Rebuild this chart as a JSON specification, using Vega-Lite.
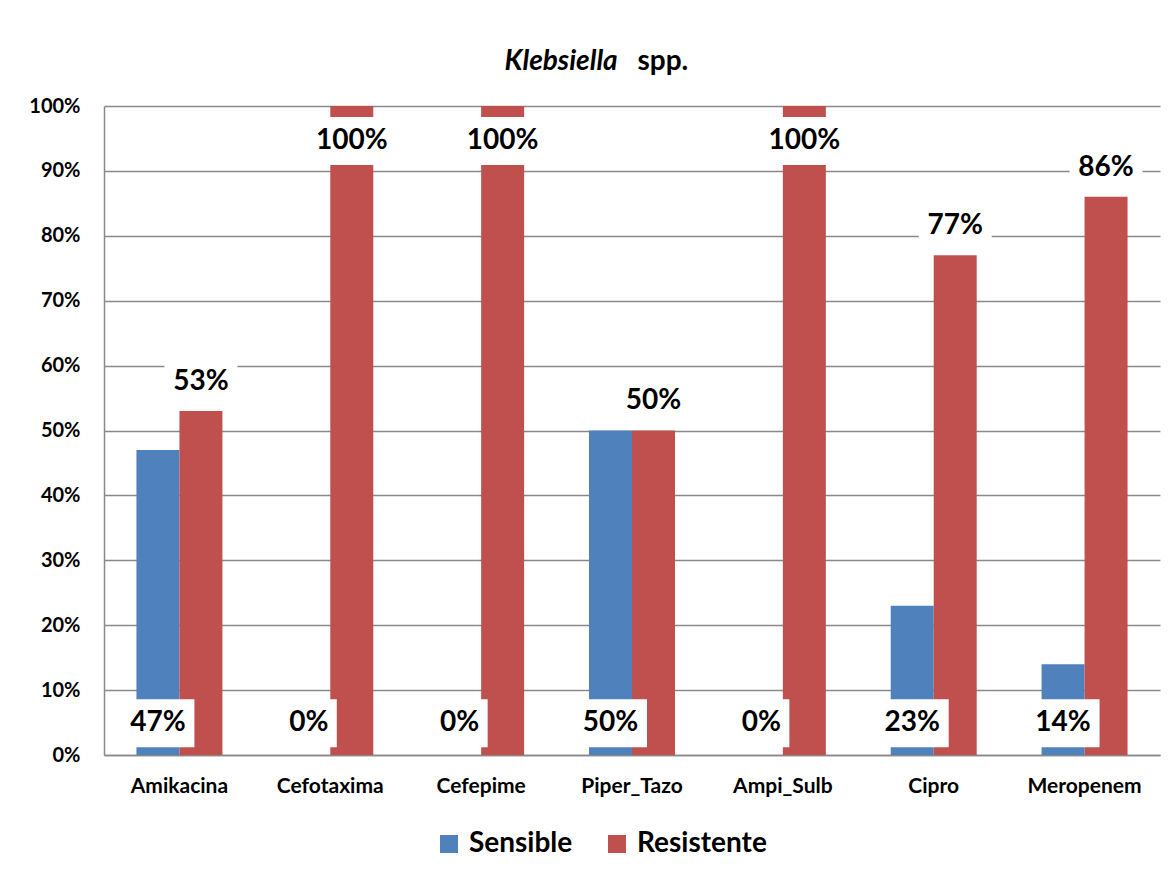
{
  "$schema": "https://vega.github.io/schema/vega-lite/v6.json",
  "width": 1056,
  "height": 649,
  "autosize": "none",
  "padding": {"left": 104, "top": 106, "right": 14, "bottom": 125},
  "background": "white",
  "config": {"font": "Lato", "view": {"stroke": null}},
  "data": {
    "values": [
      {"drug": "Amikacina", "series": "Sensible", "value": 0.47},
      {"drug": "Amikacina", "series": "Resistente", "value": 0.53},
      {"drug": "Cefotaxima", "series": "Sensible", "value": 0.0},
      {"drug": "Cefotaxima", "series": "Resistente", "value": 1.0},
      {"drug": "Cefepime", "series": "Sensible", "value": 0.0},
      {"drug": "Cefepime", "series": "Resistente", "value": 1.0},
      {"drug": "Piper_Tazo", "series": "Sensible", "value": 0.5},
      {"drug": "Piper_Tazo", "series": "Resistente", "value": 0.5},
      {"drug": "Ampi_Sulb", "series": "Sensible", "value": 0.0},
      {"drug": "Ampi_Sulb", "series": "Resistente", "value": 1.0},
      {"drug": "Cipro", "series": "Sensible", "value": 0.23},
      {"drug": "Cipro", "series": "Resistente", "value": 0.77},
      {"drug": "Meropenem", "series": "Sensible", "value": 0.14},
      {"drug": "Meropenem", "series": "Resistente", "value": 0.86}
    ]
  },
  "transform": [
    {"calculate": "format(datum.value, '.0%')", "as": "lab"},
    {"calculate": "length(datum.lab)", "as": "len"},
    {"calculate": "datum.series === 'Sensible' ? 0.049 : min(datum.value + 0.045, 0.946)", "as": "labelPos"}
  ],
  "encoding": {
    "x": {
      "field": "drug",
      "type": "nominal",
      "sort": null,
      "scale": {"paddingInner": 0.43, "paddingOuter": 0.215},
      "axis": {
        "labelAngle": 0,
        "labelFontSize": 21,
        "labelFontWeight": "bold",
        "labelColor": "black",
        "labelPadding": 20,
        "ticks": false,
        "domainColor": "#898989",
        "domainWidth": 1.5,
        "grid": false,
        "title": "Klebsiella",
        "titleX": 400,
        "titleY": -686,
        "titleAlign": "left",
        "titleBaseline": "alphabetic",
        "titleFontSize": 28,
        "titleFontStyle": "italic",
        "titleFontWeight": "bold",
        "titleColor": "black"
      }
    },
    "xOffset": {
      "field": "series",
      "type": "nominal",
      "sort": ["Sensible", "Resistente"],
      "scale": {"paddingInner": 0, "paddingOuter": 0}
    }
  },
  "layer": [
    {
      "mark": {"type": "bar"},
      "encoding": {
        "y": {
          "field": "value",
          "type": "quantitative",
          "scale": {"domain": [0, 1], "nice": false},
          "axis": {
            "format": ".0%",
            "values": [0, 0.1, 0.2, 0.3, 0.4, 0.5, 0.6, 0.7, 0.8, 0.9, 1.0],
            "grid": true,
            "gridColor": "#898989",
            "gridWidth": 1.5,
            "domainColor": "#898989",
            "domainWidth": 1.5,
            "ticks": false,
            "labelPadding": 24,
            "labelFontSize": 20,
            "labelFontWeight": "bold",
            "labelColor": "black",
            "title": "spp.",
            "titleAngle": 0,
            "titleX": 533,
            "titleY": -37,
            "titleAlign": "left",
            "titleBaseline": "alphabetic",
            "titleFontSize": 28,
            "titleFontWeight": "bold",
            "titleColor": "black"
          }
        },
        "color": {
          "field": "series",
          "type": "nominal",
          "scale": {"domain": ["Sensible", "Resistente"], "range": ["#4F81BD", "#C0504D"]},
          "legend": {
            "orient": "none",
            "legendX": 331,
            "legendY": 724,
            "direction": "horizontal",
            "title": null,
            "symbolType": "square",
            "symbolSize": 324,
            "symbolStrokeWidth": 0,
            "labelFontSize": 28,
            "labelFontWeight": "bold",
            "labelColor": "black",
            "labelOffset": 6,
            "columnPadding": 30,
            "padding": 0
          }
        }
      }
    },
    {
      "mark": {"type": "point", "filled": true, "fill": "white", "opacity": 1, "strokeWidth": 0, "size": 2304},
      "encoding": {
        "y": {"field": "labelPos", "type": "quantitative"},
        "shape": {
          "field": "len",
          "type": "ordinal",
          "scale": {
            "domain": [2, 3, 4],
            "range": ["M-1.1667,-1H1.1667V1H-1.1667Z", "M-1.52,-1H1.52V1H-1.52Z", "M-1.875,-1H1.875V1H-1.875Z"]
          },
          "legend": null
        }
      }
    },
    {
      "mark": {"type": "text", "fontSize": 28, "fontWeight": "bold", "baseline": "middle", "align": "center", "color": "black"},
      "encoding": {
        "y": {"field": "labelPos", "type": "quantitative"},
        "text": {"field": "lab"}
      }
    }
  ]
}
